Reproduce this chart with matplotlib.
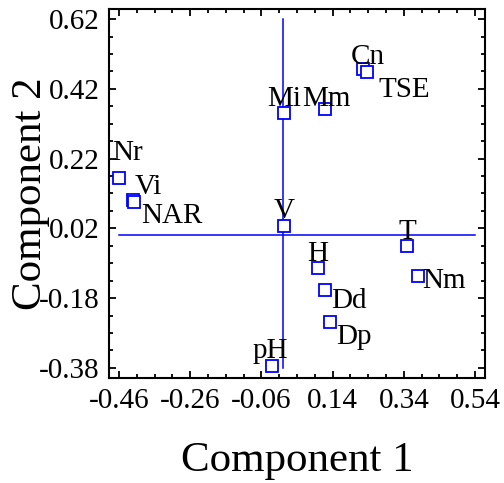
import matplotlib.pyplot as plt
from matplotlib.ticker import MultipleLocator, FixedLocator

plt.rcParams['font.family'] = ['Liberation Serif', 'DejaVu Serif']

# loadings on the first two components
labels = ['Nr', 'Vi', 'NAR', 'Mi', 'Mm', 'Cn', 'TSE', 'V', 'T', 'H', 'Nm', 'Dd', 'Dp', 'pH']
comp1 = [-0.459, -0.421, -0.418, 0.003, 0.119, 0.226, 0.237, 0.003, 0.350, 0.098, 0.379, 0.119, 0.133, -0.031]
comp2 = [0.164, 0.101, 0.097, 0.350, 0.361, 0.476, 0.469, 0.028, -0.030, -0.093, -0.116, -0.156, -0.249, -0.374]

xticks = [-0.46, -0.26, -0.06, 0.14, 0.34, 0.54]
yticks = [-0.38, -0.18, 0.02, 0.22, 0.42, 0.62]

# label placement (pixels from the marker: left edge, baseline)
offsets = [(-7, 18), (2, 6), (7, -21), (-17, 7), (-23, 3), (-12, 5), (11, -25),
           (-10, 8), (-9, 7), (-10, 7), (4, -12), (6, -18), (6, -22), (-19, 8)]

fig = plt.figure(figsize=(5.04, 4.83), dpi=100)
ax = fig.add_axes([0.2163, 0.2174, 0.746, 0.764])

ax.plot([0, 0], [yticks[0], yticks[-1]], color='#0000ff', lw=1.1, zorder=1)
ax.plot([xticks[0], xticks[-1]], [0, 0], color='#0000ff', lw=1.1, zorder=1)

ax.plot(comp1, comp2, ls='none', marker='s', ms=8, mfc='white', mec='#0000ff', mew=1.3, zorder=2)

for lab, x, y, (dx, dy) in zip(labels, comp1, comp2, offsets):
    ax.annotate(lab, (x, y), xytext=(dx, dy), textcoords='offset pixels',
                ha='left', va='baseline', fontsize=21, zorder=3)

ax.set_xlim(-0.488, 0.568)
ax.set_ylim(-0.409, 0.649)
ax.xaxis.set_major_locator(FixedLocator(xticks))
ax.yaxis.set_major_locator(FixedLocator(yticks))
ax.xaxis.set_minor_locator(MultipleLocator(0.05, offset=0.04))
ax.yaxis.set_minor_locator(MultipleLocator(0.05, offset=0.02))
ax.set_xticklabels([f'{t:.2f}' for t in xticks])
ax.set_yticklabels([f'{t:.2f}' for t in yticks])

ax.tick_params(which='both', direction='in', top=True, right=True, width=1.3, labelsize=21)
ax.tick_params(which='major', length=5, pad=7)
ax.tick_params(which='minor', length=3)
for s in ax.spines.values():
    s.set_linewidth(1.5)

ax.set_xlabel('Component 1', fontsize=31, labelpad=20)
ax.set_ylabel('Component 2', fontsize=31, labelpad=-8)

fig.savefig('out.png', dpi=100)
